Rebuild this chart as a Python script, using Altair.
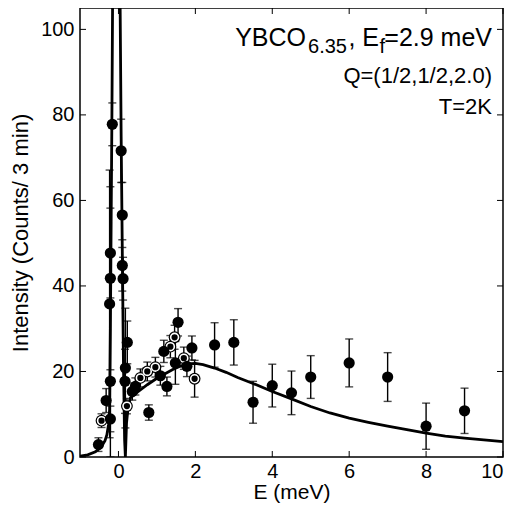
import altair as alt
import pandas as pd

# ---- data ----
# filled circles
f_E = [-0.52, -0.32, -0.21, -0.21, -0.23, -0.21, -0.21, -0.16, 0.07, 0.10, 0.10, 0.12,
       0.23, 0.18, 0.17, 0.36, 0.44, 0.79, 1.09, 1.18, 1.26, 1.48, 1.55, 1.78, 1.91,
       2.5, 3.0, 3.5, 4.0, 4.5, 5.0, 6.0, 7.0, 8.0, 9.0]
f_I = [2.9, 13.2, 8.9, 17.7, 35.8, 41.8, 47.7, 77.8, 71.6, 56.6, 44.8, 41.7,
       26.8, 20.8, 17.7, 15.3, 16.5, 10.4, 19.0, 24.7, 16.5, 22.0, 31.5, 21.2, 25.5,
       26.2, 26.8, 12.8, 16.7, 15.0, 18.7, 22.0, 18.7, 7.2, 10.8]
f_err = [1.6, 2.8, 3.0, 17.7, 31.3, 21.4, 10.5, 5.0, 7.4, 7.6, 6.0, 5.0,
         5.0, 14.0, 7.5, 2.0, 2.0, 1.8, 2.2, 2.6, 2.2, 5.0, 3.2, 2.4, 2.8,
         5.2, 5.3, 4.9, 5.0, 5.1, 5.0, 5.6, 5.7, 5.4, 5.3]

# open circles
o_E = [-0.44, 0.22, 0.57, 0.75, 0.96, 1.35, 1.46, 1.70, 1.98]
o_I = [8.5, 11.9, 18.5, 20.0, 21.0, 25.8, 28.0, 23.1, 18.3]
o_err = [1.6, 1.8, 2.1, 2.2, 2.3, 2.6, 2.8, 2.6, 4.3]

# fitted curve
c_E = [-1.0, -0.8, -0.6, -0.45, -0.35, -0.3, -0.26, -0.23, -0.21, -0.19, -0.17, -0.15,
       0.04, 0.07, 0.10, 0.13, 0.16, 0.18, 0.21, 0.25, 0.31, 0.5, 0.75, 1.0, 1.2, 1.4,
       1.6, 1.8, 2.0, 2.2, 2.5, 2.8, 3.1, 3.5, 4.0, 4.5, 5.0, 5.5, 6.0, 6.5, 7.0, 7.5,
       8.0, 8.5, 9.0, 9.5, 10.0]
c_I = [0.2, 0.5, 1.2, 2.3, 3.8, 5.2, 7.5, 11.0, 30.0, 55.0, 80.0, 110.0,
       110.0, 75.0, 48.0, 22.0, 4.0, 0.0, 8.0, 11.5, 13.8, 15.2, 16.9, 18.4, 19.4, 20.4,
       21.2, 21.8, 21.9, 21.6, 20.8, 19.8, 18.6, 17.2, 15.3, 13.6, 11.8, 10.3, 9.1, 8.1, 7.2, 6.4,
       5.6, 4.9, 4.4, 4.0, 3.6]

x_ticks = [0, 2, 4, 6, 8, 10]
y_ticks = [0, 20, 40, 60, 80, 100]

W, H = 423, 449
FONT = "Liberation Sans"

fdf = pd.DataFrame({"E": f_E, "I": f_I, "lo": [i - e for i, e in zip(f_I, f_err)],
                    "hi": [i + e for i, e in zip(f_I, f_err)]})
odf = pd.DataFrame({"E": o_E, "I": o_I, "lo": [i - e for i, e in zip(o_I, o_err)],
                    "hi": [i + e for i, e in zip(o_I, o_err)]})
cdf = pd.DataFrame({"E": c_E, "I": c_I, "k": list(range(len(c_E)))})
xtdf = pd.DataFrame({"E": x_ticks})
ytdf = pd.DataFrame({"I": y_ticks})

xs = alt.Scale(domain=[-1, 10], nice=False, zero=False)
ys = alt.Scale(domain=[0, 105], nice=False, zero=False)
xax = alt.Axis(values=x_ticks, title="E (meV)", ticks=False, domain=False, grid=False,
               labelPadding=4, titlePadding=0, titleFontSize=21)
yax = alt.Axis(values=y_ticks, title="Intensity (Counts/ 3 min)", ticks=False, domain=False,
               grid=False, labelPadding=6, titlePadding=8, titleFontSize=22)

X = alt.X("E:Q", scale=xs, axis=xax)
Y = alt.Y("I:Q", scale=ys, axis=yax)

curve = alt.Chart(cdf).mark_line(color="black", strokeWidth=2.8, clip=True).encode(
    x=X, y=Y, order="k:Q")


def errs(df):
    rule = alt.Chart(df).mark_rule(color="black", strokeWidth=1.4, clip=True).encode(
        x=X, y=alt.Y("lo:Q", scale=ys, axis=yax), y2="hi:Q")
    capl = alt.Chart(df).mark_tick(color="black", orient="horizontal", size=8,
                                   thickness=1.4, clip=True).encode(
        x=X, y=alt.Y("lo:Q", scale=ys, axis=yax))
    caph = alt.Chart(df).mark_tick(color="black", orient="horizontal", size=8,
                                   thickness=1.4, clip=True).encode(
        x=X, y=alt.Y("hi:Q", scale=ys, axis=yax))
    return rule + capl + caph


open_base = alt.Chart(odf).mark_point(shape="circle", filled=True, color="black",
                                      size=140, opacity=1).encode(x=X, y=Y)
open_ring = alt.Chart(odf).mark_point(shape="circle", filled=False, stroke="white",
                                      strokeWidth=1.6, size=62, opacity=1).encode(x=X, y=Y)
filled = alt.Chart(fdf).mark_point(shape="circle", filled=True, color="black",
                                   size=125, opacity=1).encode(x=X, y=Y)

# inward ticks on all four sides
tick_b = alt.Chart(xtdf).mark_rule(color="black", strokeWidth=1).encode(
    x=X, y=alt.value(H), y2=alt.value(H - 6))
tick_t = alt.Chart(xtdf).mark_rule(color="black", strokeWidth=1).encode(
    x=X, y=alt.value(0), y2=alt.value(6))
tick_l = alt.Chart(ytdf).mark_rule(color="black", strokeWidth=1).encode(
    y=Y, x=alt.value(0), x2=alt.value(6))
tick_r = alt.Chart(ytdf).mark_rule(color="black", strokeWidth=1).encode(
    y=Y, x=alt.value(W), x2=alt.value(W - 6))

# annotation text
txt_main = ["YBCO", ", E", "=2.9 meV"]
txt_sub = ["6.35", "f"]
line2 = "Q=(1/2,1/2,2.0)"
line3 = "T=2K"

tdf = pd.DataFrame({"t": [0]})


def txt(s, x, y, size, align="left"):
    return alt.Chart(tdf).mark_text(text=s, font=FONT, fontSize=size, align=align,
                                    baseline="alphabetic", color="black").encode(
        x=alt.value(x), y=alt.value(y))


F1 = 25
S1 = 20
FS = 22
b1 = 38
annot = (
    txt(txt_main[2], 412, b1, F1, "right")
    + txt(txt_sub[1], 305, b1 + 7, S1, "right")
    + txt(txt_main[1], 299, b1, F1, "right")
    + txt(txt_sub[0], 267, b1 + 7, S1, "right")
    + txt(txt_main[0], 226, b1, F1, "right")
    + txt(line2, 412, 75, FS, "right")
    + txt(line3, 412, 106, FS, "right")
)

chart = alt.layer(
    curve, errs(fdf), errs(odf), open_base, open_ring, filled,
    tick_b, tick_t, tick_l, tick_r, annot
).properties(
    width=W, height=H,
    autosize=alt.AutoSizeParams(type="none"),
    padding={"left": 72, "top": 0, "right": 7, "bottom": 46},
).configure_view(
    stroke="black", strokeWidth=1.5
).configure_axis(
    labelFont=FONT, titleFont=FONT, labelFontSize=20,
    labelColor="black", titleColor="black", titleFontWeight="normal"
)

chart.save("out.html", embed_options={"renderer": "svg", "actions": False})
